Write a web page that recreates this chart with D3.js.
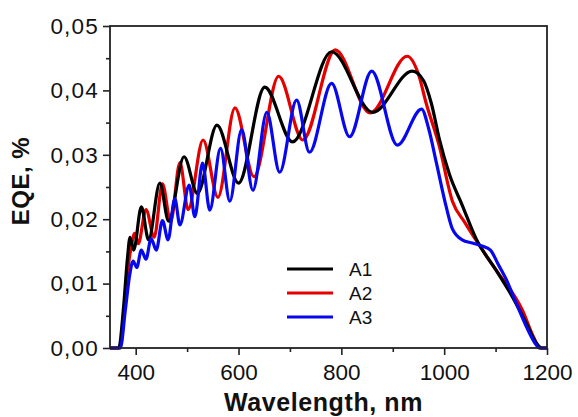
<!DOCTYPE html>
<html>
<head>
<meta charset="utf-8">
<script src="https://cdn.jsdelivr.net/npm/d3@7"></script>
<style>
  body { margin: 0; background: #fff; }
  text { font-family: "Liberation Sans", Arial, sans-serif; fill: #111; }
</style>
</head>
<body>
<div id="chart"></div>
<script>
// EQE spectra, [wavelength nm, EQE %]
var a1 = [
	[350, 0], [367, 0], [376, 0.006], [384, 0.0140], [389, 0.0172], [396, 0.0152],
	[411, 0.0219], [425, 0.0168], [447, 0.0256], [464, 0.0197], [494, 0.0297],
	[520, 0.0240], [558, 0.0346], [600, 0.0256], [651, 0.0405], [705, 0.0320],
	[781, 0.0460], [861, 0.0366], [938, 0.0430], [960, 0.0415], [975, 0.0380],
	[991, 0.0323], [1010, 0.0270], [1035, 0.0222], [1063, 0.0168], [1100, 0.0122],
	[1133, 0.0079], [1160, 0.0038], [1180, 0.0007], [1190, 0], [1200, 0]
];
var a2 = [
	[350, 0], [369, 0], [378, 0.006], [386, 0.0130], [392, 0.0160], [398, 0.0178],
	[405, 0.0162], [420, 0.0215], [436, 0.0172], [452, 0.0255], [468, 0.0196],
	[486, 0.0288], [502, 0.0215], [531, 0.0323], [560, 0.0234], [593, 0.0373],
	[630, 0.0266], [678, 0.0422], [725, 0.0323], [788, 0.0463], [856, 0.0365],
	[928, 0.0453], [950, 0.0425], [965, 0.0380], [990, 0.0315], [1016, 0.0228],
	[1040, 0.0195], [1068, 0.0160], [1100, 0.0122], [1152, 0.0059], [1175, 0.0015],
	[1186, 0], [1200, 0]
];
var a3 = [
	[350, 0], [370, 0], [380, 0.006], [388, 0.0112], [395, 0.0135], [402, 0.0125],
	[411, 0.0152], [420, 0.0138], [430, 0.0170], [440, 0.0152], [452, 0.0198],
	[463, 0.0168], [476, 0.0232], [486, 0.0191], [504, 0.0253], [515, 0.0204],
	[530, 0.0287], [544, 0.0214], [565, 0.0310], [583, 0.0228], [606, 0.0339],
	[628, 0.0245], [655, 0.0366], [680, 0.0273], [713, 0.0385], [738, 0.0304],
	[781, 0.0411], [816, 0.0328], [859, 0.0430], [909, 0.0315], [956, 0.0371],
	[970, 0.0340], [985, 0.0287], [1004, 0.0219], [1016, 0.0185], [1035, 0.0168],
	[1055, 0.0163], [1075, 0.0158], [1090, 0.0152], [1105, 0.0130], [1121, 0.0106],
	[1140, 0.0070], [1160, 0.0033], [1179, 0.0005], [1185, 0], [1200, 0]
];
var seriesNames = ["A1", "A2", "A3"];
var seriesColors = ["#000000", "#e50000", "#0808ee"];
var xTicks = [400, 600, 800, 1000, 1200];
var xMinor = [500, 700, 900, 1100];
var yTicks = [0, 0.01, 0.02, 0.03, 0.04, 0.05];
var yMinor = [0.005, 0.015, 0.025, 0.035, 0.045];

var width = 578, height = 417;
var plotL = 110, plotR = 547, plotT = 26, plotB = 348;

var svg = d3.select("#chart").append("svg")
	.attr("width", width)
	.attr("height", height);

var x = d3.scaleLinear().domain([350, 1200]).range([plotL, plotR]);
var y = d3.scaleLinear().domain([0, 0.05]).range([plotB, plotT]);

var fmt = function (d) { return d3.format(".2f")(d).replace(".", ","); };

// major + minor ticks, outside
svg.append("g")
	.attr("transform", "translate(0," + plotB + ")")
	.call(d3.axisBottom(x).tickValues(xTicks).tickSize(7).tickPadding(9).tickFormat(String))
	.call(function (g) { g.selectAll("text").attr("font-size", 22.5).attr("font-family", null); });
svg.append("g")
	.attr("transform", "translate(0," + plotB + ")")
	.call(d3.axisBottom(x).tickValues(xMinor).tickSize(4).tickFormat(""));

svg.append("g")
	.attr("transform", "translate(" + plotL + ",0)")
	.call(d3.axisLeft(y).tickValues(yTicks).tickSize(7).tickPadding(4).tickFormat(fmt))
	.call(function (g) {
		g.selectAll("text").attr("font-size", 22.5).attr("font-family", null)
			.attr("letter-spacing", 1.2);
	});
svg.append("g")
	.attr("transform", "translate(" + plotL + ",0)")
	.call(d3.axisLeft(y).tickValues(yMinor).tickSize(4).tickFormat(""));

svg.selectAll(".domain").remove();
svg.selectAll(".tick line").attr("stroke", "#222").attr("stroke-width", 1.6);

var line = d3.line()
	.x(function (d) { return x(d[0]); })
	.y(function (d) { return y(d[1]); })
	.curve(d3.curveMonotoneX);

var data = [a1, a2, a3];
// red underneath, then black, blue on top
[1, 0, 2].forEach(function (i) {
	svg.append("path")
		.datum(data[i])
		.attr("fill", "none")
		.attr("stroke", seriesColors[i])
		.attr("stroke-width", 3.2)
		.attr("stroke-linejoin", "round")
		.attr("d", line);
});

// frame
svg.append("rect")
	.attr("x", plotL).attr("y", plotT)
	.attr("width", plotR - plotL).attr("height", plotB - plotT)
	.attr("fill", "none")
	.attr("stroke", "#222")
	.attr("stroke-width", 1.8);

// legend
var legend = svg.append("g").attr("transform", "translate(287,269)");
seriesNames.forEach(function (name, i) {
	legend.append("line")
		.attr("x1", 0).attr("x2", 46)
		.attr("y1", i * 24).attr("y2", i * 24)
		.attr("stroke", seriesColors[i])
		.attr("stroke-width", 3.2);
	legend.append("text")
		.attr("x", 62).attr("y", i * 24 + 7)
		.attr("font-size", 19)
		.text(name);
});

// axis titles
svg.append("text")
	.attr("x", (plotL + plotR) / 2 - 5)
	.attr("y", 411)
	.attr("text-anchor", "middle")
	.attr("font-size", 25)
	.attr("font-weight", "bold")
	.attr("letter-spacing", 0.6)
	.text("Wavelength, nm");

svg.append("text")
	.attr("transform", "translate(29," + 181 + ") rotate(-90)")
	.attr("text-anchor", "middle")
	.attr("font-size", 24)
	.attr("font-weight", "bold")
	.attr("letter-spacing", 0.5)
	.text("EQE, %");
</script>
</body>
</html>
